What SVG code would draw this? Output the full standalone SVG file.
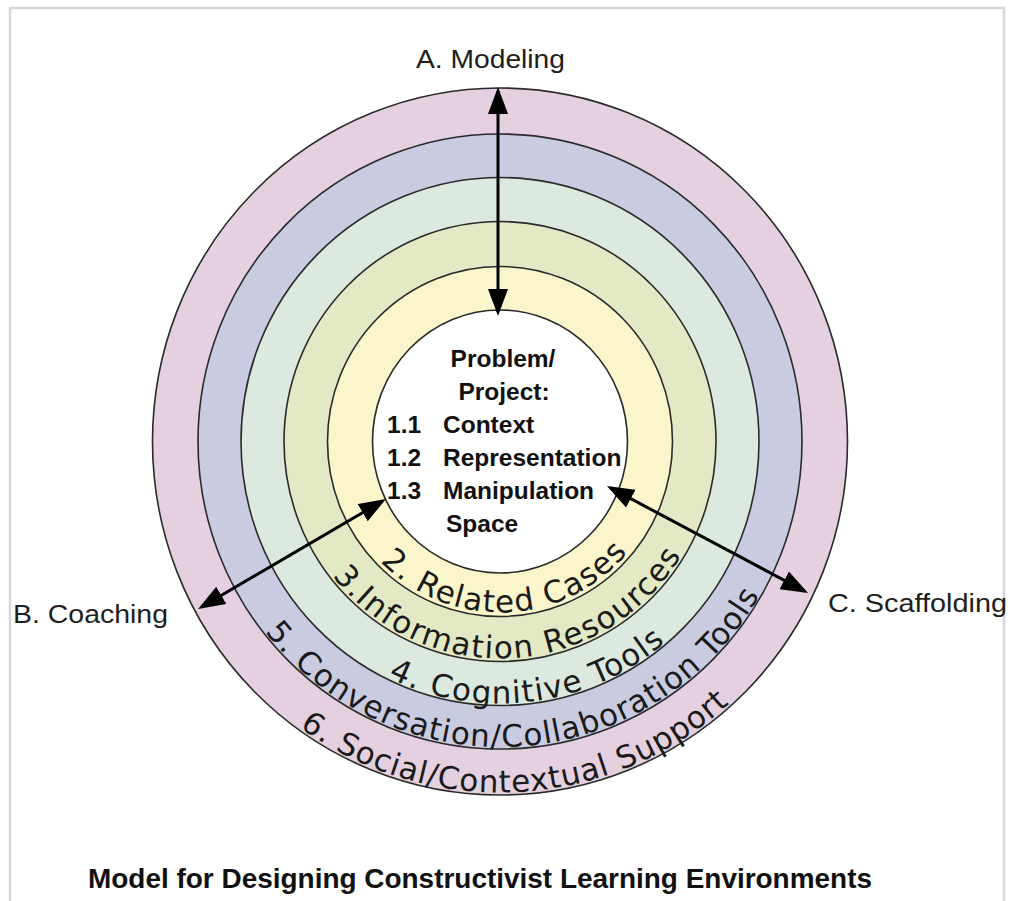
<svg xmlns="http://www.w3.org/2000/svg" width="1011" height="901" viewBox="0 0 1011 901">
  <style>
    .ring { stroke: #2a2a2a; stroke-width: 1.6; }
    .lbl { font-family: "Liberation Sans", Arial, sans-serif; font-size: 26px; fill: #1e1e1e; }
    .core { font-family: "Liberation Sans", Arial, sans-serif; font-weight: bold; font-size: 24.5px; fill: #111; }
    .arc { font-family: "DejaVu Sans", "Liberation Sans", sans-serif; font-size: 31px; fill: #1a1a1a; }
    .title { font-family: "Liberation Sans", Arial, sans-serif; font-weight: bold; font-size: 28px; fill: #111; }
    .conn { stroke: #000; stroke-width: 3; fill: none; }
  </style>
  <defs>
    <marker id="head" viewBox="0 0 27 20" refX="23" refY="10" markerWidth="27" markerHeight="20" markerUnits="userSpaceOnUse" orient="auto-start-reverse">
      <path d="M0,0 L27,10 L0,20 Z" fill="#000"/>
    </marker>
    <path id="p2" d="M332,441.5 A168,171 0 0 0 668,441.5"/>
    <path id="p3" d="M286.7,441.5 A213.3,217 0 0 0 713.3,441.5"/>
    <path id="p4" d="M242.5,441.5 A257.5,262 0 0 0 757.5,441.5"/>
    <path id="p5" d="M199.5,441.5 A300.5,305.5 0 0 0 800.5,441.5"/>
    <path id="p6" d="M155,441.5 A345,351 0 0 0 845,441.5"/>
  </defs>
  <rect x="0" y="0" width="1011" height="901" fill="#fff"/>
  <rect x="10" y="8" width="994" height="900" fill="#fff" stroke="#d6d6dc" stroke-width="2.5"/>

  <g id="ring6">
    <ellipse class="ring" cx="500" cy="441.5" rx="347.5" ry="353.5" fill="#e4d0df"/>
  </g>
  <g id="ring5">
    <ellipse class="ring" cx="500" cy="441.5" rx="302" ry="307.5" fill="#c9cce1"/>
  </g>
  <g id="ring4">
    <ellipse class="ring" cx="500" cy="441.5" rx="259" ry="264" fill="#dbe9de"/>
  </g>
  <g id="ring3">
    <ellipse class="ring" cx="500" cy="441.5" rx="216" ry="220" fill="#e3e9c5"/>
  </g>
  <g id="ring2">
    <ellipse class="ring" cx="500" cy="441.5" rx="172.5" ry="175" fill="#fbf5cc"/>
  </g>
  <g id="core">
    <ellipse class="ring" cx="500" cy="441.5" rx="127.5" ry="131.5" fill="#fff"/>
    <text class="core" x="503" y="367" text-anchor="middle">Problem/</text>
    <text class="core" x="504" y="400" text-anchor="middle">Project:</text>
    <text class="core" x="387" y="433">1.1</text>
    <text class="core" x="443" y="433">Context</text>
    <text class="core" x="387" y="466">1.2</text>
    <text class="core" x="443" y="466">Representation</text>
    <text class="core" x="387" y="499">1.3</text>
    <text class="core" x="443" y="499">Manipulation</text>
    <text class="core" x="446" y="532">Space</text>
  </g>

  <g id="ring-labels">
    <text class="arc"><textPath href="#p2" startOffset="51.1%" text-anchor="middle" textLength="279" lengthAdjust="spacing">2. Related Cases</textPath></text>
    <text class="arc"><textPath href="#p3" startOffset="51.8%" text-anchor="middle" textLength="411" lengthAdjust="spacing">3.Information Resources</textPath></text>
    <text class="arc"><textPath href="#p4" startOffset="53.9%" text-anchor="middle" textLength="296" lengthAdjust="spacing">4. Cognitive Tools</textPath></text>
    <text class="arc"><textPath href="#p5" startOffset="52.3%" text-anchor="middle" textLength="586" lengthAdjust="spacing">5. Conversation/Collaboration Tools</textPath></text>
    <text class="arc"><textPath href="#p6" startOffset="51.7%" text-anchor="middle" textLength="466" lengthAdjust="spacing">6. Social/Contextual Support</textPath></text>
  </g>

  <g id="connectors">
    <line class="conn" x1="498" y1="91" x2="498" y2="312" marker-start="url(#head)" marker-end="url(#head)"/>
    <line class="conn" x1="382.5" y1="501" x2="201.5" y2="607" marker-start="url(#head)" marker-end="url(#head)"/>
    <line class="conn" x1="610.5" y1="487.9" x2="804.5" y2="591.1" marker-start="url(#head)" marker-end="url(#head)"/>
  </g>

  <g id="modeling">
    <text class="lbl" x="416" y="68" textLength="149" lengthAdjust="spacingAndGlyphs">A. Modeling</text>
  </g>
  <g id="coaching">
    <text class="lbl" x="13" y="623" textLength="155" lengthAdjust="spacingAndGlyphs">B. Coaching</text>
  </g>
  <g id="scaffolding">
    <text class="lbl" x="828" y="612" textLength="179" lengthAdjust="spacingAndGlyphs">C. Scaffolding</text>
  </g>
  <g id="title">
    <text class="title" x="88" y="888" textLength="784" lengthAdjust="spacingAndGlyphs">Model for Designing Constructivist Learning Environments</text>
  </g>
</svg>
